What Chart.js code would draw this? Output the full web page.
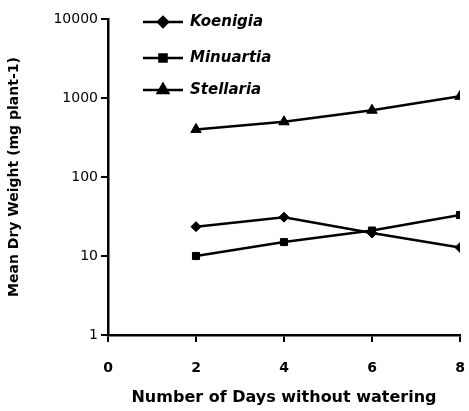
<!DOCTYPE html>
<html><head><meta charset="utf-8">
<script src="https://cdn.jsdelivr.net/npm/chart.js@4"></script>
<style>html,body{margin:0;padding:0;background:#fff}#wrap{width:469px;height:411px}</style>
</head><body><div id="wrap"><canvas id="c" width="469" height="411"></canvas></div>
<script>
const days = [2, 4, 6, 8];
const koenigia = [23.5, 31, 19.5, 12.8];
const minuartia = [10, 15, 21, 33];
const stellaria = [400, 500, 700, 1050];
const xTicks = [0, 2, 4, 6, 8];
const yTicks = [1, 10, 100, 1000, 10000];
const seriesNames = ['Koenigia', 'Minuartia', 'Stellaria'];

const FONT = '"DejaVu Sans", "Liberation Sans", Arial, sans-serif';
const pts = a => a.map((v, i) => ({x: days[i], y: v}));
const base = {borderColor:'#000', backgroundColor:'#000', borderWidth:2.5, pointBorderWidth:1, tension:0};

const legendPlugin = {
  id: 'customLegend',
  afterDraw(chart) {
    const ctx = chart.ctx;
    const ys = [22, 58, 90];
    ctx.save();
    chart.data.datasets.forEach((ds, i) => {
      const y = ys[i];
      ctx.strokeStyle = '#000'; ctx.lineWidth = 2.5;
      ctx.beginPath(); ctx.moveTo(143, y); ctx.lineTo(183, y); ctx.stroke();
      ctx.fillStyle = '#000';
      Chart.helpers.drawPoint(ctx, {pointStyle: ds.pointStyle, radius: ds.pointRadius, rotation: 0, borderWidth: 1}, 163, y);
      ctx.fillStyle = '#000';
      ctx.font = 'italic bold 15px ' + FONT;
      ctx.textBaseline = 'middle'; ctx.textAlign = 'left';
      ctx.fillText(ds.label, 190, y);
    });
    ctx.restore();
  }
};

new Chart(document.getElementById('c'), {
  type: 'line',
  data: {
    datasets: [
      Object.assign({label: seriesNames[0], data: pts(koenigia), pointStyle:'rectRot', pointRadius:5}, base),
      Object.assign({label: seriesNames[1], data: pts(minuartia), pointStyle:'rect', pointRadius:5}, base),
      Object.assign({label: seriesNames[2], data: pts(stellaria), pointStyle:'triangle', pointRadius:6}, base)
    ]
  },
  options: {
    responsive: false, animation: false, devicePixelRatio: 1,
    layout: {padding: {top: 19, right: 0, left: 2, bottom: 0}},
    plugins: {legend: {display: false}, tooltip: {enabled: false}},
    scales: {
      x: {
        type: 'linear', min: 0, max: 8,
        afterBuildTicks: s => { s.ticks = xTicks.map(v => ({value: v})); },
        afterFit: s => { s.height = 76; s.paddingRight = 9; s.paddingLeft = 0; },
        grid: {display: true, drawOnChartArea: false, drawTicks: true, tickLength: 7, color: '#000', lineWidth: 2},
        border: {display: true, color: '#000', width: 2.5},
        ticks: {color: '#000', padding: 18, font: {family: FONT, size: 14, weight: 'bold'}},
        title: {display: true, text: 'Number of Days without watering', color: '#000', padding: {top: 7}, font: {family: FONT, size: 16, weight: 'bold'}}
      },
      y: {
        type: 'logarithmic', min: 1, max: 10000,
        afterBuildTicks: s => { s.ticks = yTicks.map(v => ({value: v, major: true})); },
        afterFit: s => { s.width = 106; },
        grid: {display: true, drawOnChartArea: false, drawTicks: true, tickLength: 7, color: '#000', lineWidth: 2},
        border: {display: true, color: '#000', width: 2.5},
        ticks: {color: '#000', padding: 3, callback: v => String(v), font: {family: FONT, size: 14}},
        title: {display: true, text: 'Mean Dry Weight (mg plant-1)', color: '#000', padding: {bottom: 0}, font: {family: FONT, size: 14, weight: 'bold'}}
      }
    }
  },
  plugins: [legendPlugin]
});
</script>
</body></html>
